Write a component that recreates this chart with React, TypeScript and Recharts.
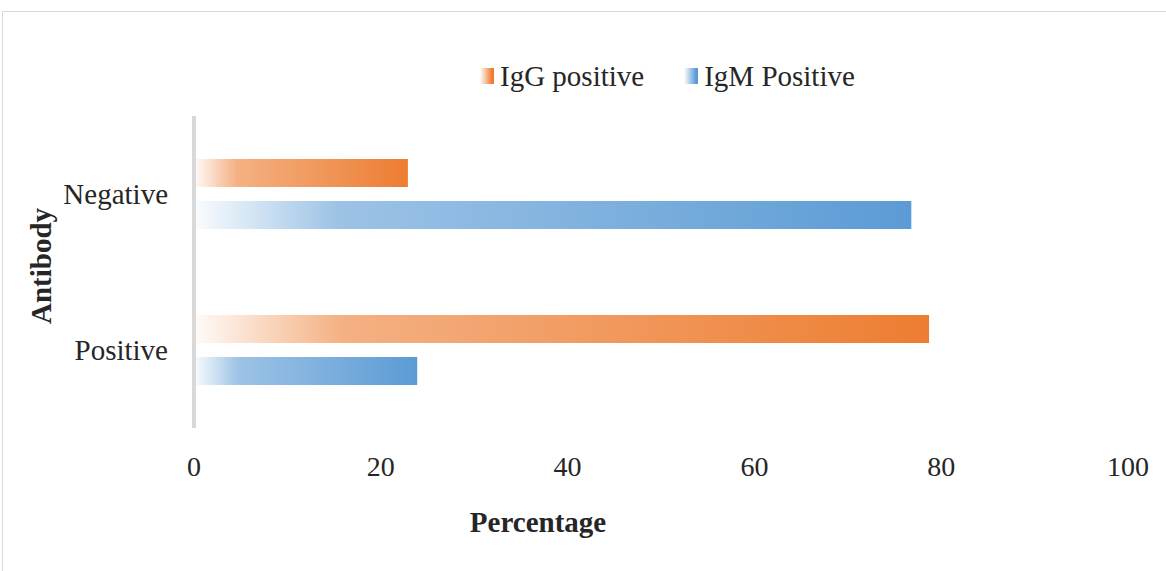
import { BarChart, Bar, XAxis, YAxis, Legend } from 'recharts'

const categories = ['Negative', 'Positive']
const iggPositive = [22.9, 78.7]
const igmPositive = [76.8, 23.9]
const xTicks = [0, 20, 40, 60, 80, 100]

const data = categories.map((name, i) => ({
  name,
  igg: iggPositive[i],
  igm: igmPositive[i],
}))

const ORANGE = '#ED7D31'
const BLUE = '#5B9BD5'
const FONT = '"Liberation Serif", "Times New Roman", serif'
const TEXT = '#262626'

const legendColors: Record<string, string> = {
  'IgG positive': ORANGE,
  'IgM Positive': BLUE,
}

function LegendContent(props: any) {
  const items = props.payload || []
  return (
    <div style={{ display: 'flex', alignItems: 'center', paddingLeft: 480, height: 40 }}>
      {items.map((it: any, i: number) => {
        const c = legendColors[it.value] || it.color
        return (
          <div key={i} style={{ display: 'flex', alignItems: 'center', marginRight: 40 }}>
            <span
              style={{
                display: 'inline-block',
                width: 14,
                height: 16,
                background: `linear-gradient(to right, rgba(255,255,255,1) 0%, ${c} 85%)`,
                marginRight: 6,
              }}
            />
            <span style={{ fontFamily: FONT, fontSize: 29, color: TEXT, lineHeight: '32px' }}>
              {it.value}
            </span>
          </div>
        )
      })}
    </div>
  )
}

function Gradient({ id, color }: { id: string; color: string }) {
  return (
    <linearGradient id={id} x1="0" y1="0" x2="1" y2="0">
      <stop offset="0%" stopColor={color} stopOpacity={0.03} />
      <stop offset="20%" stopColor={color} stopOpacity={0.6} />
      <stop offset="100%" stopColor={color} stopOpacity={1} />
    </linearGradient>
  )
}

export default function App() {
  return (
    <div style={{ position: 'absolute', left: 0, top: 0, width: 1166, height: 571, overflow: 'hidden', background: '#fff' }}>
      <div
        style={{
          position: 'absolute',
          left: 2,
          top: 11,
          width: 1200,
          height: 600,
          border: '1px solid #d9d9d9',
        }}
      />
      <BarChart
        width={1166}
        height={571}
        data={data}
        layout="vertical"
        margin={{ top: 76, right: 38, left: 0, bottom: 83 }}
        barSize={28}
        barGap={14}
        style={{ position: 'absolute', left: 0, top: 0 }}
      >
        <defs>
          <Gradient id="gradIgg" color={ORANGE} />
          <Gradient id="gradIgm" color={BLUE} />
        </defs>
        <Legend
          verticalAlign="top"
          align="left"
          content={<LegendContent />}
          wrapperStyle={{ top: 56, left: 0, width: 1166, height: 40 }}
        />
        <XAxis
          type="number"
          domain={[0, 100]}
          ticks={xTicks}
          axisLine={false}
          tickLine={false}
          tickSize={0}
          tickMargin={28}
          height={60}
          tick={{ fontFamily: FONT, fontSize: 28, fill: TEXT }}
          label={{
            content: ({ viewBox }: any) => (
              <text
                x={viewBox.x + 344}
                y={viewBox.y + 104}
                textAnchor="middle"
                fontFamily={FONT}
                fontSize={29}
                fontWeight="bold"
                fill={TEXT}
              >
                Percentage
              </text>
            ),
          }}
        />
        <YAxis
          type="category"
          dataKey="name"
          width={194}
          axisLine={{ stroke: '#d9d9d9', strokeWidth: 4 }}
          tickLine={false}
          tickSize={0}
          tickMargin={26}
          tick={{ fontFamily: FONT, fontSize: 29, fill: TEXT }}
          label={{
            content: ({ viewBox }: any) => {
              const cx = viewBox.x + 41
              const cy = viewBox.y + viewBox.height / 2 - 6
              return (
                <text
                  x={cx}
                  y={cy}
                  textAnchor="middle"
                  dominantBaseline="central"
                  transform={`rotate(-90 ${cx} ${cy})`}
                  fontFamily={FONT}
                  fontSize={29}
                  fontWeight="bold"
                  fill={TEXT}
                >
                  Antibody
                </text>
              )
            },
          }}
        />
        <Bar dataKey="igg" name="IgG positive" fill="url(#gradIgg)" isAnimationActive={false} />
        <Bar dataKey="igm" name="IgM Positive" fill="url(#gradIgm)" isAnimationActive={false} />
      </BarChart>
    </div>
  )
}
